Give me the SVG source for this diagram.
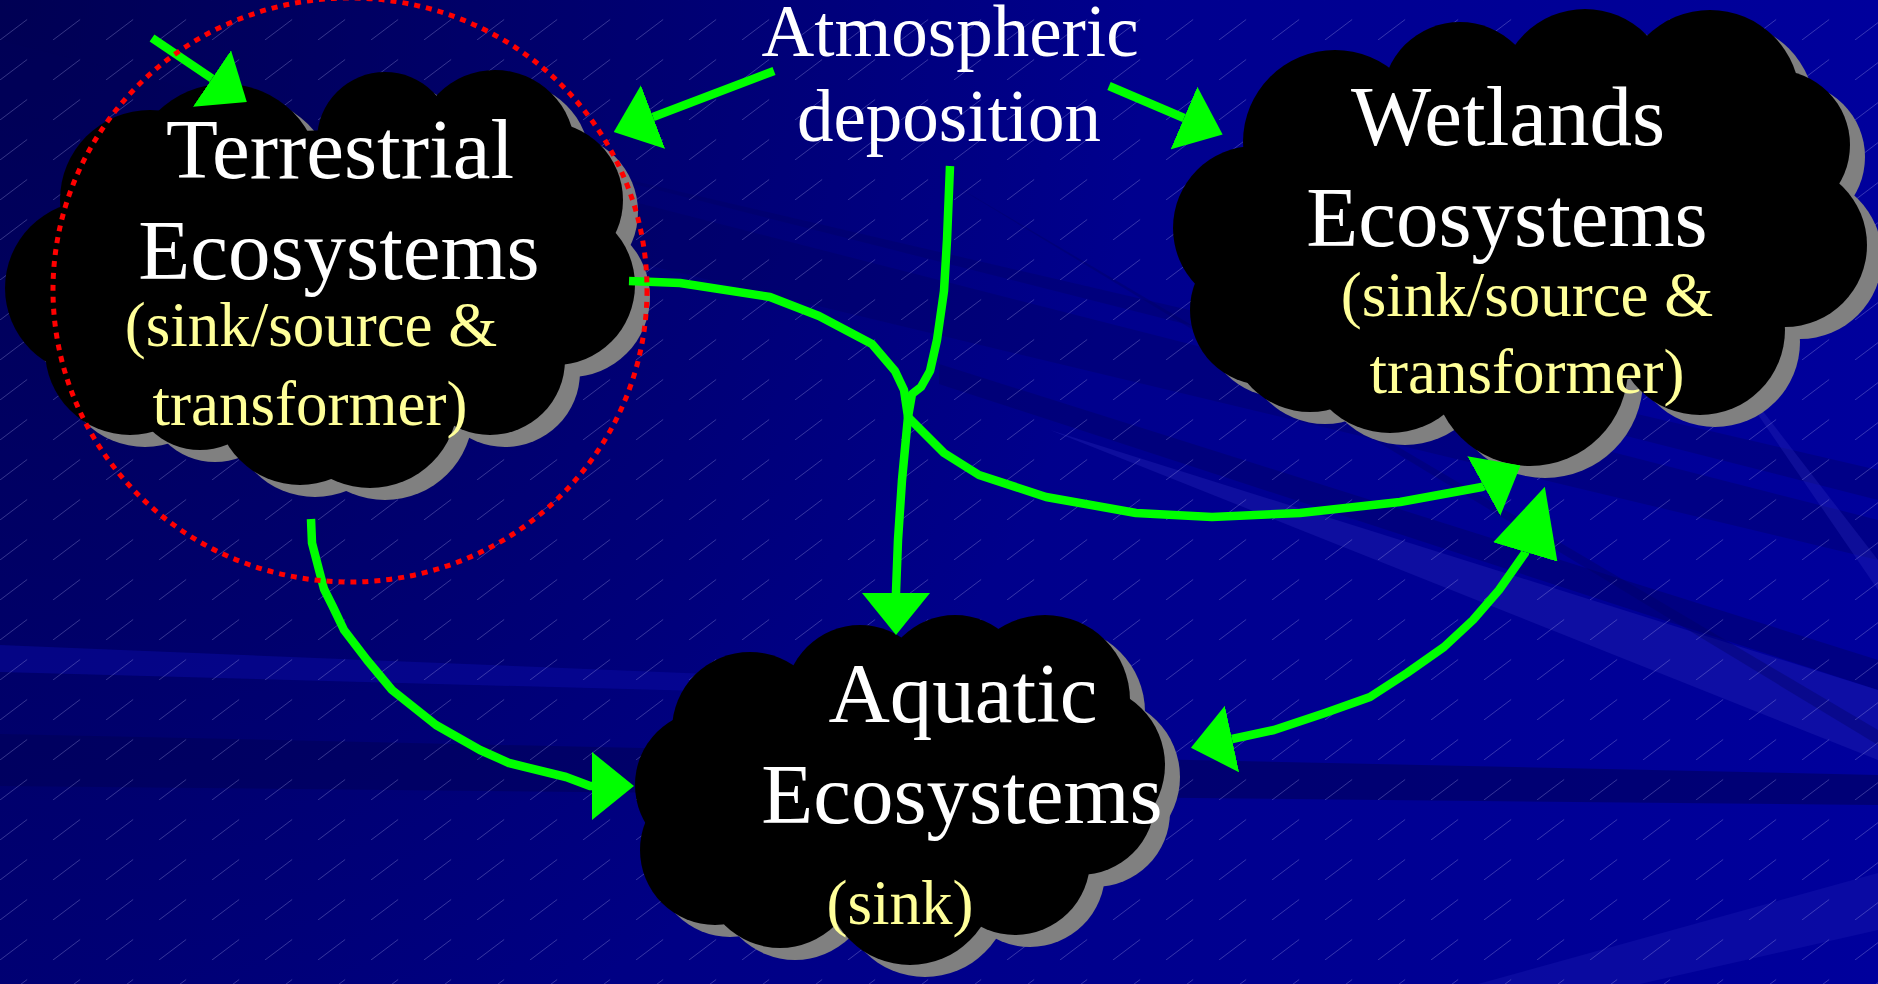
<svg xmlns="http://www.w3.org/2000/svg" width="1878" height="984" viewBox="0 0 1878 984">
  <defs>
    <style>
      .big { font-family: "Liberation Serif", "Times New Roman", serif; font-size: 85px; fill: #FFFFFF; text-anchor: middle; }
      .sub { font-family: "Liberation Serif", "Times New Roman", serif; font-size: 63px; fill: #FFFF99; text-anchor: middle; }
      .atm { font-family: "Liberation Serif", "Times New Roman", serif; font-size: 73px; fill: #FFFFFF; text-anchor: middle; }
      .flow { fill: none; stroke: #00FF00; stroke-width: 8.5; stroke-linejoin: round; stroke-linecap: butt; }
      .shadow { fill: #808080; }
      .cloud { fill: #000000; }
    </style>
    <linearGradient id="bgGrad" x1="0" y1="0" x2="1878" y2="0" gradientUnits="userSpaceOnUse">
      <stop offset="0" stop-color="#000078"/>
      <stop offset="1" stop-color="#00009C"/>
    </linearGradient>
    <radialGradient id="darkTL" cx="0" cy="0" r="1150" gradientUnits="userSpaceOnUse">
      <stop offset="0" stop-color="#000040" stop-opacity="0.65"/>
      <stop offset="1" stop-color="#000040" stop-opacity="0"/>
    </radialGradient>
    <pattern id="hatch" width="53" height="40" patternUnits="userSpaceOnUse">
      <line x1="0" y1="40" x2="53" y2="0" stroke="#B0B0F0" stroke-opacity="0.3" stroke-width="1" stroke-dasharray="34 32.4"/>
    </pattern>
    <marker id="ah" viewBox="0 0 42 68" refX="0" refY="34" markerWidth="42" markerHeight="68" markerUnits="userSpaceOnUse" orient="auto-start-reverse">
      <path d="M0,0 L42,34 L0,68 Z" fill="#00FF00"/>
    </marker>
    <marker id="ahLong" viewBox="0 0 68 67" refX="0" refY="33.5" markerWidth="68" markerHeight="67" markerUnits="userSpaceOnUse" orient="auto-start-reverse">
      <path d="M0,0 L68,33.5 L0,67 Z" fill="#00FF00"/>
    </marker>
    <g id="shapeT">
      <ellipse cx="330" cy="280" rx="230" ry="150"/>
      <circle cx="92" cy="288" r="87"/>
      <circle cx="150" cy="200" r="90"/>
      <circle cx="225" cy="180" r="96"/>
      <circle cx="385" cy="140" r="68"/>
      <circle cx="495" cy="150" r="80"/>
      <circle cx="545" cy="200" r="78"/>
      <circle cx="555" cy="285" r="80"/>
      <circle cx="490" cy="360" r="75"/>
      <circle cx="370" cy="400" r="88"/>
      <circle cx="300" cy="400" r="85"/>
      <circle cx="200" cy="380" r="70"/>
      <circle cx="130" cy="350" r="85"/>
    </g>
    <g id="shapeW">
      <ellipse cx="1515" cy="235" rx="260" ry="160"/>
      <circle cx="1255" cy="228" r="82"/>
      <circle cx="1335" cy="142" r="92"/>
      <circle cx="1460" cy="100" r="78"/>
      <circle cx="1585" cy="95" r="86"/>
      <circle cx="1710" cy="100" r="90"/>
      <circle cx="1775" cy="145" r="75"/>
      <circle cx="1785" cy="245" r="82"/>
      <circle cx="1700" cy="330" r="85"/>
      <circle cx="1530" cy="368" r="98"/>
      <circle cx="1390" cy="345" r="88"/>
      <circle cx="1310" cy="330" r="82"/>
      <circle cx="1265" cy="310" r="75"/>
    </g>
    <g id="shapeA">
      <ellipse cx="900" cy="790" rx="210" ry="130"/>
      <circle cx="710" cy="785" r="75"/>
      <circle cx="750" cy="730" r="78"/>
      <circle cx="860" cy="700" r="75"/>
      <circle cx="955" cy="690" r="75"/>
      <circle cx="1045" cy="700" r="85"/>
      <circle cx="1085" cy="765" r="80"/>
      <circle cx="1080" cy="800" r="75"/>
      <circle cx="1015" cy="860" r="75"/>
      <circle cx="910" cy="880" r="85"/>
      <circle cx="780" cy="870" r="78"/>
      <circle cx="715" cy="850" r="75"/>
    </g>
  </defs>

  <g id="background">
    <rect width="1878" height="984" fill="url(#bgGrad)"/>
    <rect width="1878" height="984" fill="url(#darkTL)"/>
    <polygon points="0,40 0,110 1878,560 1878,520" fill="#000058" fill-opacity="0.3"/>
    <polygon points="500,150 1878,470 1878,500" fill="#000060" fill-opacity="0.35"/>
    <polygon points="939,364 1878,660 1878,690 939,384" fill="#000066" fill-opacity="0.45"/>
    <polygon points="1050,430 1878,690 1878,760" fill="#2424B4" fill-opacity="0.4"/>
    <polygon points="939,176 1878,730 1878,745" fill="#000060" fill-opacity="0.35"/>
    <polygon points="0,645 1100,690 1100,702 0,672" fill="#0C0CA8" fill-opacity="0.45"/>
    <polygon points="0,734 1878,775 1878,805 0,786" fill="#000058" fill-opacity="0.55"/>
    <polygon points="1478,984 1878,873 1878,930 1640,984" fill="#1818B0" fill-opacity="0.4"/>
    <polygon points="1700,330 1878,560 1878,590" fill="#3030C0" fill-opacity="0.3"/>
    <rect width="1878" height="984" fill="url(#hatch)"/>
  </g>

  <g id="node-terrestrial">
    <use href="#shapeT" class="shadow" transform="translate(15,12)"/>
    <use href="#shapeT" class="cloud"/>
    <text class="big" x="340" y="178">Terrestrial</text>
    <text class="big" x="339" y="279">Ecosystems</text>
    <text class="sub" x="311" y="346">(sink/source &amp;</text>
    <text class="sub" x="310" y="425">transformer)</text>
  </g>

  <g id="node-wetlands">
    <use href="#shapeW" class="shadow" transform="translate(15,12)"/>
    <use href="#shapeW" class="cloud"/>
    <text class="big" x="1508" y="145">Wetlands</text>
    <text class="big" x="1507" y="246">Ecosystems</text>
    <text class="sub" x="1527" y="316">(sink/source &amp;</text>
    <text class="sub" x="1527" y="393">transformer)</text>
  </g>

  <g id="node-aquatic">
    <use href="#shapeA" class="shadow" transform="translate(15,12)"/>
    <use href="#shapeA" class="cloud"/>
    <text class="big" x="963" y="722">Aquatic</text>
    <text class="big" x="962" y="823">Ecosystems</text>
    <text class="sub" x="900" y="924">(sink)</text>
  </g>

  <g id="node-atmospheric">
    <text class="atm" x="950" y="56">Atmospheric</text>
    <text class="atm" x="949" y="141">deposition</text>
  </g>

  <g id="connectors">
    <path class="flow" d="M152,38 L212,78.5" marker-end="url(#ah)"/>
    <path class="flow" d="M774,71 L653,117" marker-end="url(#ah)"/>
    <path class="flow" d="M1109,86 L1184,118" marker-end="url(#ah)"/>
    <path class="flow" d="M950,166 L947,240 L944,291 L937,340 L930,371 L921,387 L912,394 L908,417 L902,480 L898,540 L896,592 L896,593" marker-end="url(#ah)"/>
    <path class="flow" d="M629,281 L680,283 L770,297 L819,316 L872,344 L895,371 L904,390 L908,417 L944,453 L979,475 L1046,497 L1136,513 L1212,517 L1300,513 L1400,502 L1482,487 L1483.8,486" marker-end="url(#ah)"/>
    <path class="flow" d="M311,519 L312,543 L324,589 L333,607 L344,630 L367,660 L392,690 L436,725 L480,750 L509,763 L566,777 L590,786 L592,786" marker-end="url(#ah)"/>
    <path class="flow" d="M1232,739 L1274,730 L1325,713 L1370,697 L1407,673 L1444,647 L1473,620 L1499,590 L1525,553 L1525.3,552" marker-start="url(#ah)" marker-end="url(#ahLong)"/>
  </g>

  <g id="highlight">
    <ellipse cx="350" cy="290" rx="297" ry="292" fill="none" stroke="#FF0000" stroke-width="5" stroke-dasharray="6 6"/>
  </g>
</svg>
